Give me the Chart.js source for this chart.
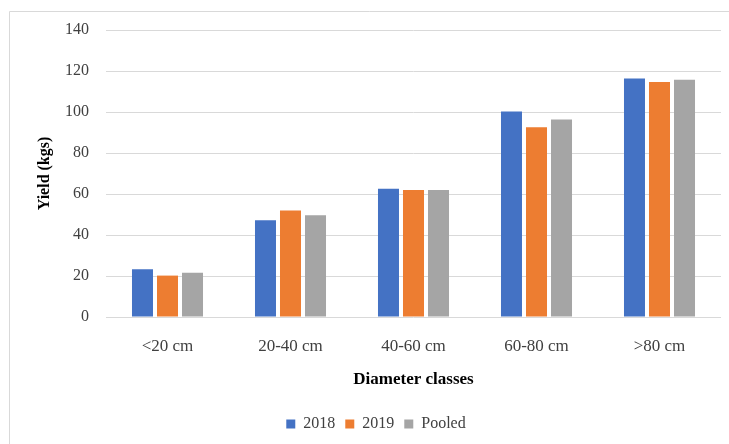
<!DOCTYPE html>
<html>
<head>
<meta charset="utf-8">
<script src="https://cdn.jsdelivr.net/npm/chart.js@4"></script>
<style>
  html, body { margin: 0; padding: 0; background: #fff; }
  #wrap { position: relative; width: 729px; height: 444px; }
</style>
</head>
<body>
<div id="wrap"><canvas id="myChart" width="729" height="444"></canvas></div>
<script>
var categories = ['<20 cm', '20-40 cm', '40-60 cm', '60-80 cm', '>80 cm'];
var yield2018 = [23.3, 47.2, 62.6, 100.2, 116.3];
var yield2019 = [20.2, 51.9, 62.0, 92.6, 114.6];
var yieldPooled = [21.6, 49.6, 62.0, 96.4, 115.7];

var serif = '"Liberation Serif", "Times New Roman", serif';

// light frame like the exported picture (top and left edges only)
var framePlugin = {
	id: 'frame',
	beforeDraw: function (chart) {
		var c = chart.ctx;
		c.save();
		c.strokeStyle = '#d9d9d9';
		c.lineWidth = 1;
		c.beginPath();
		c.moveTo(9.5, 444);
		c.lineTo(9.5, 11.5);
		c.lineTo(729, 11.5);
		c.stroke();
		c.restore();
	}
};

var ctx = document.getElementById('myChart').getContext('2d');
var chart = new Chart(ctx, {
	type: 'bar',
	data: {
		labels: categories,
		datasets: [{
			label: '2018',
			backgroundColor: '#4472C4',
			data: yield2018
		}, {
			label: '2019',
			backgroundColor: '#ED7D31',
			data: yield2019
		}, {
			label: 'Pooled',
			backgroundColor: '#A5A5A5',
			data: yieldPooled
		}]
	},
	options: {
		responsive: false,
		animation: false,
		datasets: {
			bar: { categoryPercentage: 0.61, barPercentage: 0.84 }
		},
		layout: { padding: { left: 31, right: 8, top: 30, bottom: 2 } },
		plugins: {
			legend: {
				position: 'bottom',
				labels: {
					boxWidth: 9,
					boxHeight: 9,
					padding: 10,
					color: '#404040',
					font: { family: serif, size: 16 }
				}
			},
			tooltip: { enabled: false }
		},
		scales: {
			x: {
				grid: { display: false },
				border: { display: false },
				ticks: {
					color: '#404040',
					padding: 11,
					font: { family: serif, size: 17 }
				},
				title: {
					display: true,
					text: 'Diameter classes',
					color: '#000',
					padding: { top: 4, bottom: 16 },
					font: { family: serif, size: 17, weight: 'bold' }
				},
				afterFit: function (scale) { scale.height = 89; }
			},
			y: {
				min: 0,
				max: 140,
				ticks: {
					stepSize: 20,
					color: '#404040',
					padding: 17,
					font: { family: serif, size: 16 }
				},
				grid: { color: '#d9d9d9', drawTicks: false },
				border: { display: false },
				title: {
					display: true,
					text: 'Yield (kgs)',
					color: '#000',
					font: { family: serif, size: 16, weight: 'bold' }
				},
				afterFit: function (scale) { scale.width = 75; }
			}
		}
	},
	plugins: [framePlugin]
});
</script>
</body>
</html>
